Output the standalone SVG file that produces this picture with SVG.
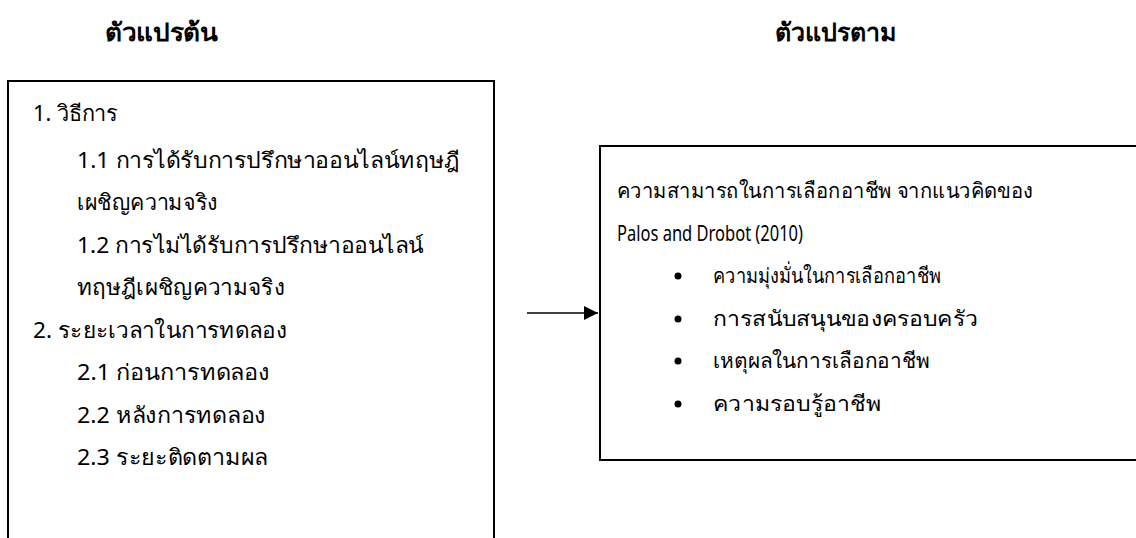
<svg xmlns="http://www.w3.org/2000/svg" width="1136" height="538" viewBox="0 0 1136 538">
<style>
.t{font-family:"Noto Sans","Liberation Sans",sans-serif;font-size:22px;fill:#000}
.r{font-family:"Noto Sans","Liberation Sans",sans-serif;font-size:21px;fill:#000}
.h{font-family:"Noto Sans","Liberation Sans",sans-serif;font-size:25px;font-weight:bold;fill:#000}
.box{fill:#fff;stroke:#000;stroke-width:2}
</style>
<defs>
<marker id="arr" markerWidth="14" markerHeight="14" refX="14" refY="7" orient="auto" markerUnits="userSpaceOnUse">
<path d="M0,0 L14,7 L0,14 Z" fill="#000"/>
</marker>
</defs>
<rect width="1136" height="538" fill="#fff"/>
<g id="header-independent"><text class="h" x="105" y="41" textLength="113" lengthAdjust="spacingAndGlyphs">ตัวแปรต้น</text></g>
<g id="header-dependent"><text class="h" x="775" y="41" textLength="121" lengthAdjust="spacingAndGlyphs">ตัวแปรตาม</text></g>
<g id="independent">
<rect class="box" x="8" y="81" width="486" height="470"/>
<text class="t" x="33" y="121" textLength="85" lengthAdjust="spacingAndGlyphs">1. วิธีการ</text>
<text class="t" x="77" y="168" textLength="383" lengthAdjust="spacingAndGlyphs">1.1 การได้รับการปรึกษาออนไลน์ทฤษฎี</text>
<text class="t" x="77" y="210" textLength="141" lengthAdjust="spacingAndGlyphs">เผชิญความจริง</text>
<text class="t" x="77" y="253" textLength="347" lengthAdjust="spacingAndGlyphs">1.2 การไม่ได้รับการปรึกษาออนไลน์</text>
<text class="t" x="77" y="295" textLength="208" lengthAdjust="spacingAndGlyphs">ทฤษฎีเผชิญความจริง</text>
<text class="t" x="33" y="338" textLength="254" lengthAdjust="spacingAndGlyphs">2. ระยะเวลาในการทดลอง</text>
<text class="t" x="77" y="380" textLength="193" lengthAdjust="spacingAndGlyphs">2.1 ก่อนการทดลอง</text>
<text class="t" x="77" y="423" textLength="189" lengthAdjust="spacingAndGlyphs">2.2 หลังการทดลอง</text>
<text class="t" x="77" y="465" textLength="191" lengthAdjust="spacingAndGlyphs">2.3 ระยะติดตามผล</text>
</g>
<g id="dependent">
<rect class="box" x="600" y="146" width="545" height="314"/>
<text class="r" x="617" y="198" textLength="416" lengthAdjust="spacingAndGlyphs">ความสามารถในการเลือกอาชีพ จากแนวคิดของ</text>
<text class="r" x="617" y="241" textLength="186" lengthAdjust="spacingAndGlyphs">Palos and Drobot (2010)</text>
<circle cx="678" cy="276" r="3.5"/>
<text class="r" x="713" y="283" textLength="228" lengthAdjust="spacingAndGlyphs">ความมุ่งมั่นในการเลือกอาชีพ</text>
<circle cx="678" cy="319" r="3.5"/>
<text class="r" x="713" y="326" textLength="265" lengthAdjust="spacingAndGlyphs">การสนับสนุนของครอบครัว</text>
<circle cx="678" cy="361" r="3.5"/>
<text class="r" x="713" y="368" textLength="217" lengthAdjust="spacingAndGlyphs">เหตุผลในการเลือกอาชีพ</text>
<circle cx="678" cy="404" r="3.5"/>
<text class="r" x="713" y="411" textLength="168" lengthAdjust="spacingAndGlyphs">ความรอบรู้อาชีพ</text>
</g>
<g id="connectors">
<line x1="527" y1="313" x2="598" y2="313" stroke="#000" stroke-width="1.3" marker-end="url(#arr)"/>
</g>
</svg>
